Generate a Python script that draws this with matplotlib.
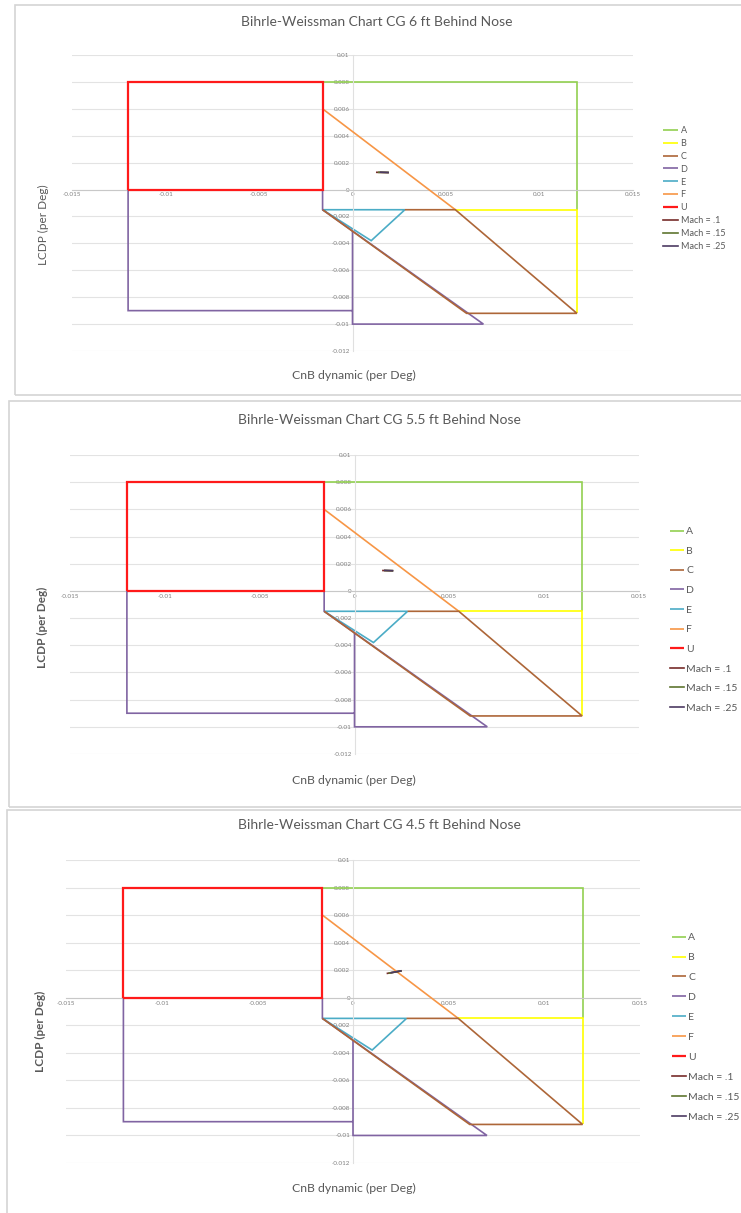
#!/usr/bin/env python
# -*- coding: utf-8 -*-

import matplotlib
matplotlib.use('Agg')

import numpy as np
from matplotlib import pyplot as plt
from matplotlib.patches import Rectangle

plt.rcParams['font.family'] = ['Lato', 'DejaVu Sans']

W, H = 741, 1213

# departure regions, CnB dynamic (x) vs LCDP (y), per deg
REGION_NAMES = ['A', 'B', 'C', 'D', 'E', 'F', 'U']
A_CNB = [-0.0016, 0.012, 0.012]
A_LCDP = [0.008, 0.008, -0.0015]
B_CNB = [0.0055, 0.012, 0.012]
B_LCDP = [-0.0015, -0.0015, -0.0092]
C_CNB = [0.0028, 0.0055, 0.012, 0.0061, -0.0016]
C_LCDP = [-0.0015, -0.0015, -0.0092, -0.0092, -0.0015]
D_CNB = [-0.012, -0.012, 0.0, np.nan, -0.0016, -0.0016, 0.007, 0.0, 0.0]
D_LCDP = [0.0, -0.009, -0.009, np.nan, 0.0, -0.0015, -0.01, -0.01, -0.0031]
E_CNB = [-0.0016, 0.0028, 0.001, -0.0016]
E_LCDP = [-0.0015, -0.0015, -0.0038, -0.0015]
F_CNB = [-0.0016, 0.0055]
F_LCDP = [0.006, -0.0015]
U_CNB = [-0.012, -0.0016, -0.0016, -0.012, -0.012]
U_LCDP = [0.0, 0.0, 0.008, 0.008, 0.0]

# aircraft points for each CG location
MACH_LABELS = ['Mach = .1', 'Mach = .15', 'Mach = .25']
CG6_CNB = [[0.0013, 0.0019], [0.0014, 0.0019], [0.0015, 0.0019]]
CG6_LCDP = [[0.00128, 0.00126], [0.00128, 0.00127], [0.00129, 0.00127]]
CG55_CNB = [[0.0015, 0.0020], [0.0016, 0.0020], [0.0016, 0.0020]]
CG55_LCDP = [[0.00150, 0.00148], [0.00150, 0.00149], [0.00151, 0.00149]]
CG45_CNB = [[0.0018, 0.0025], [0.0019, 0.0025], [0.0020, 0.0025]]
CG45_LCDP = [[0.00177, 0.00194], [0.00179, 0.00194], [0.00182, 0.00195]]

TITLES = ['Bihrle-Weissman Chart CG 6 ft Behind Nose',
          'Bihrle-Weissman Chart CG 5.5 ft Behind Nose',
          'Bihrle-Weissman Chart CG 4.5 ft Behind Nose']

X_TICKS = [-0.015, -0.01, -0.005, 0, 0.005, 0.01, 0.015]
X_TICKLABELS = ['-0.015', '-0.01', '-0.005', '0', '0.005', '0.01', '0.015']
Y_TICKS = [0.01, 0.008, 0.006, 0.004, 0.002, 0, -0.002, -0.004, -0.006,
           -0.008, -0.01, -0.012]
Y_TICKLABELS = ['0.01', '0.008', '0.006', '0.004', '0.002', '0', '-0.002',
                '-0.004', '-0.006', '-0.008', '-0.01', '-0.012']

REGION_COLORS = ['#92D050', '#FFFF00', '#AD6638', '#8064A2', '#4BACC6',
                 '#F79646', '#FF1A1A']
MACH_COLORS = ['#772C2A', '#5F7530', '#4D3B62']

# layout of the three panels, in pixels from the top left
PANELS = [
    dict(box=(15, 5, 760, 395), plot=(72, 55, 633, 351), title=(377, 22),
         xlabel=(354, 375), ylabel=(43, 225), ybold=False,
         legend=(663, 126), lfs=6.5, lsp=0.43, hlen=1.7),
    dict(box=(9, 401, 760, 807), plot=(70, 455, 639, 754), title=(379, 420),
         xlabel=(354, 780), ylabel=(42, 627), ybold=True,
         legend=(670, 527), lfs=7.5, lsp=0.99, hlen=1.3),
    dict(box=(7, 810, 760, 1230), plot=(66, 860, 640, 1163), title=(379, 825),
         xlabel=(354, 1188), ylabel=(40, 1031), ybold=True,
         legend=(672, 933), lfs=7.5, lsp=1.02, hlen=1.3),
]


def fx(x):
    return x / W


def fy(y):
    return 1 - y / H


def plot_panel(fig, panel, title, mach_cnb, mach_lcdp):

    bx0, by0, bx1, by1 = panel['box']
    fig.add_artist(Rectangle((fx(bx0), fy(by1)), fx(bx1 - bx0), (by1 - by0) / H,
                             transform=fig.transFigure, fill=False,
                             ec='#D4D4D4', lw=1.2))

    x0, y0, x1, y1 = panel['plot']
    ax = fig.add_axes([fx(x0), fy(y1), fx(x1 - x0), (y1 - y0) / H])
    ax.set_facecolor('none')
    ax.set_xlim(-0.015, 0.015)
    ax.set_ylim(-0.012, 0.01)

    ax.set_xticks(X_TICKS)
    ax.set_xticklabels(X_TICKLABELS)
    ax.set_yticks(Y_TICKS)
    ax.set_yticklabels(Y_TICKLABELS)
    ax.tick_params(axis='both', length=0, pad=2, labelsize=4.5, labelcolor='#808080')
    ax.yaxis.grid(True, color='#E3E3E3', lw=0.8)
    ax.set_axisbelow(True)

    ax.spines['top'].set_visible(False)
    ax.spines['right'].set_visible(False)
    ax.spines['left'].set_position(('data', 0))
    ax.spines['bottom'].set_position(('data', 0))
    ax.spines['left'].set_color('#E0E0E0')
    ax.spines['bottom'].set_color('#C8C8C8')
    ax.spines['left'].set_linewidth(0.8)
    ax.spines['bottom'].set_linewidth(0.8)

    regions = [(A_CNB, A_LCDP), (B_CNB, B_LCDP), (C_CNB, C_LCDP), (D_CNB, D_LCDP),
               (E_CNB, E_LCDP), (F_CNB, F_LCDP), (U_CNB, U_LCDP)]
    zorders = [2, 2, 4, 3, 2.5, 2.6, 3]
    for (cx, cy), name, color, z in zip(regions, REGION_NAMES, REGION_COLORS, zorders):
        lw = 1.6 if name == 'U' else 1.2
        ax.plot(cx, cy, color=color, lw=lw, label=name, zorder=z,
                solid_capstyle='butt', solid_joinstyle='miter')

    for cx, cy, label, color in zip(mach_cnb, mach_lcdp, MACH_LABELS, MACH_COLORS):
        ax.plot(cx, cy, color=color, lw=1.2, label=label, zorder=5)

    lx, ly = panel['legend']
    ax.legend(loc='upper left', bbox_to_anchor=(fx(lx), fy(ly)),
              bbox_transform=fig.transFigure, frameon=False, borderpad=0,
              borderaxespad=0, fontsize=panel['lfs'], labelspacing=panel['lsp'],
              handlelength=panel['hlen'], handletextpad=0.25, labelcolor='#595959')

    tx, ty = panel['title']
    fig.text(fx(tx), fy(ty), title, ha='center', va='center', fontsize=10,
             color='#595959')
    xx, xy = panel['xlabel']
    fig.text(fx(xx), fy(xy), 'CnB dynamic (per Deg)', ha='center', va='center',
             fontsize=8.8, color='#595959')
    yx, yy = panel['ylabel']
    fig.text(fx(yx), fy(yy), 'LCDP (per Deg)', ha='center', va='center',
             rotation=90, fontsize=8.5, color='#595959',
             fontweight='bold' if panel['ybold'] else 'normal')

    return ax


def main():

    fig = plt.figure(figsize=(W / 100, H / 100), dpi=100)
    fig.patch.set_facecolor('white')

    machs = [(CG6_CNB, CG6_LCDP), (CG55_CNB, CG55_LCDP), (CG45_CNB, CG45_LCDP)]
    for panel, title, (mc, ml) in zip(PANELS, TITLES, machs):
        plot_panel(fig, panel, title, mc, ml)

    fig.savefig('out.png', dpi=100)


if __name__ == "__main__":
    main()
